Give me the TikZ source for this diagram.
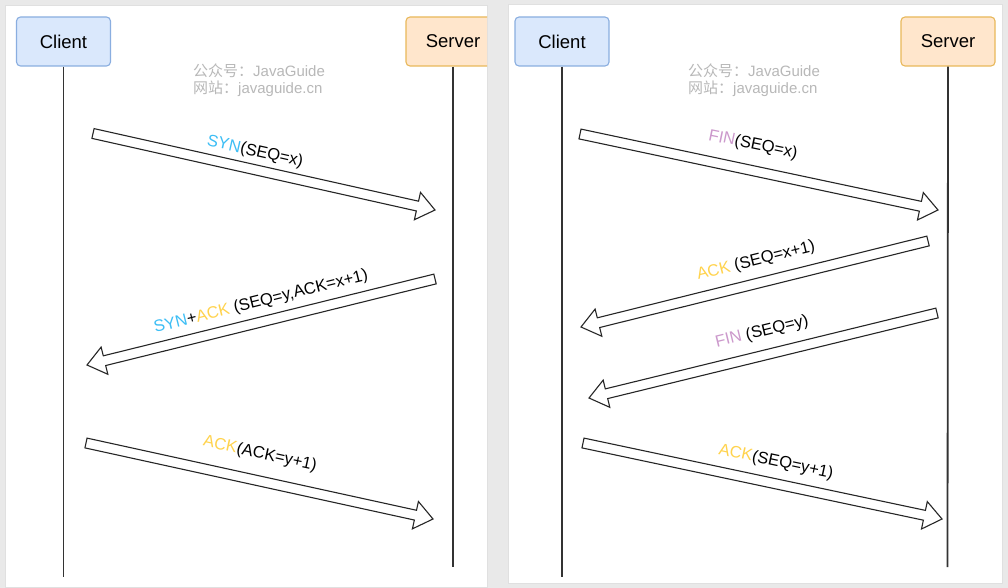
\documentclass[tikz,border=0pt]{standalone}
\usepackage{fontspec}
\setmainfont{Liberation Sans}
\newfontfamily\cjk{Noto Sans CJK SC}
\usetikzlibrary{calc}

\definecolor{clientfill}{HTML}{DAE8FC}
\definecolor{clientline}{HTML}{8AAEE0}
\definecolor{serverfill}{HTML}{FFE6CC}
\definecolor{serverline}{HTML}{E8B85A}
\definecolor{syncol}{HTML}{3DBEF5}
\definecolor{ackcol}{HTML}{FFD34D}
\definecolor{fincol}{HTML}{CC99CC}
\definecolor{markgray}{HTML}{B8B8B8}
\definecolor{bggray}{HTML}{E9E9E9}

\newcommand{\hollowarrow}[2]{%
  \coordinate (#1n) at ($(#2)!18pt!(#1)$);
  \draw[blockarr] ($(#1)!5pt!90:(#2)$) -- ($(#1n)!5pt!90:(#2)$)
    -- ($(#1n)!14pt!90:(#2)$) -- (#2) -- ($(#1n)!14pt!-90:(#2)$)
    -- ($(#1n)!5pt!-90:(#2)$) -- ($(#1)!5pt!-90:(#2)$) -- cycle;
}

\begin{document}
\begin{tikzpicture}[x=1pt, y=-1pt,
  panel/.style={fill=white, draw=black!12, line width=0.8pt},
  clientbox/.style={draw=clientline, fill=clientfill, rounded corners=4pt, line width=1.1pt,
    minimum width=94pt, minimum height=49pt, font=\fontsize{18.5}{22}\selectfont},
  serverbox/.style={clientbox, draw=serverline, fill=serverfill},
  lifeline/.style={draw=black!80, line width=1.8pt},
  blockarr/.style={draw=black!85, fill=white, line width=1.1pt, line join=miter},
  msg/.style={inner sep=0pt, font=\fontsize{16.5}{19}\selectfont},
  wmark/.style={inner sep=0pt, anchor=west, text=markgray, font=\fontsize{15}{17}\selectfont}]
  \useasboundingbox (0,0) rectangle (1008,588);
  \fill[bggray] (0,0) rectangle (1008,588);
  \draw[panel] (5,5) rectangle (487,587);
  \draw[panel] (508,4) rectangle (1002,583);

  \node[clientbox] (cli1) at (63.5,41.5) {Client};
  \begin{scope}
    \clip (5,5) rectangle (487,587);
    \node[serverbox] (srv1) at (453,41.5) {Server};
  \end{scope}
  \node[clientbox] (cli2) at (562,41.5) {Client};
  \node[serverbox] (srv2) at (948,41.5) {Server};

  \coordinate (cli1end) at (63.5,577);
  \coordinate (srv1end) at (453,567);
  \coordinate (cli2end) at (562,577);
  \coordinate (srv2end) at (947.5,567);
  \draw[lifeline] (cli1.south) -- (cli1end);
  \draw[lifeline] (srv1.south) -- (srv1end);
  \draw[lifeline] (cli2.south) -- (cli2end);
  \draw[lifeline] (srv2.south) -- (srv2end);

  \node[wmark] (wm1a) at (193,71) {{\cjk 公众号：}JavaGuide};
  \node[wmark] (wm1b) at (193,89) {{\cjk 网站：}javaguide.cn};
  \node[wmark] (wm2a) at (688,71) {{\cjk 公众号：}JavaGuide};
  \node[wmark] (wm2b) at (688,89) {{\cjk 网站：}javaguide.cn};

  \coordinate (synA) at (93,133.5);
  \coordinate (synB) at (435,210);
  \coordinate (synackA) at (435,279);
  \coordinate (synackB) at (87,365);
  \coordinate (ackA) at (86,443);
  \coordinate (ackB) at (433,519);
  \coordinate (fin1A) at (580,134);
  \coordinate (fin1B) at (938,210);
  \coordinate (ack1A) at (928,241);
  \coordinate (ack1B) at (581,327);
  \coordinate (fin2A) at (937,313);
  \coordinate (fin2B) at (589,398);
  \coordinate (ack2A) at (583,443);
  \coordinate (ack2B) at (942,519);

  \hollowarrow{synA}{synB}
  \hollowarrow{synackA}{synackB}
  \hollowarrow{ackA}{ackB}
  \hollowarrow{fin1A}{fin1B}
  \hollowarrow{ack1A}{ack1B}
  \hollowarrow{fin2A}{fin2B}
  \hollowarrow{ack2A}{ack2B}

  \node[msg, rotate=-12.6] (synlbl) at (255,152) {\textcolor{syncol}{SYN}(SEQ=x)};
  \node[msg, rotate=14] (synacklbl) at (261,302) {\textcolor{syncol}{SYN}+\textcolor{ackcol}{ACK} (SEQ=y,ACK=x+1)};
  \node[msg, rotate=-12.4] (acklbl) at (260,454) {\textcolor{ackcol}{ACK}(ACK=y+1)};
  \node[msg, rotate=-11.7] (fin1lbl) at (753,145) {\textcolor{fincol}{FIN}(SEQ=x)};
  \node[msg, rotate=13.9] (ack1lbl) at (756,261) {\textcolor{ackcol}{ACK} (SEQ=x+1)};
  \node[msg, rotate=13.7] (fin2lbl) at (762,332) {\textcolor{fincol}{FIN} (SEQ=y)};
  \node[msg, rotate=-12] (ack2lbl) at (776,462) {\textcolor{ackcol}{ACK}(SEQ=y+1)};
\end{tikzpicture}
\end{document}
